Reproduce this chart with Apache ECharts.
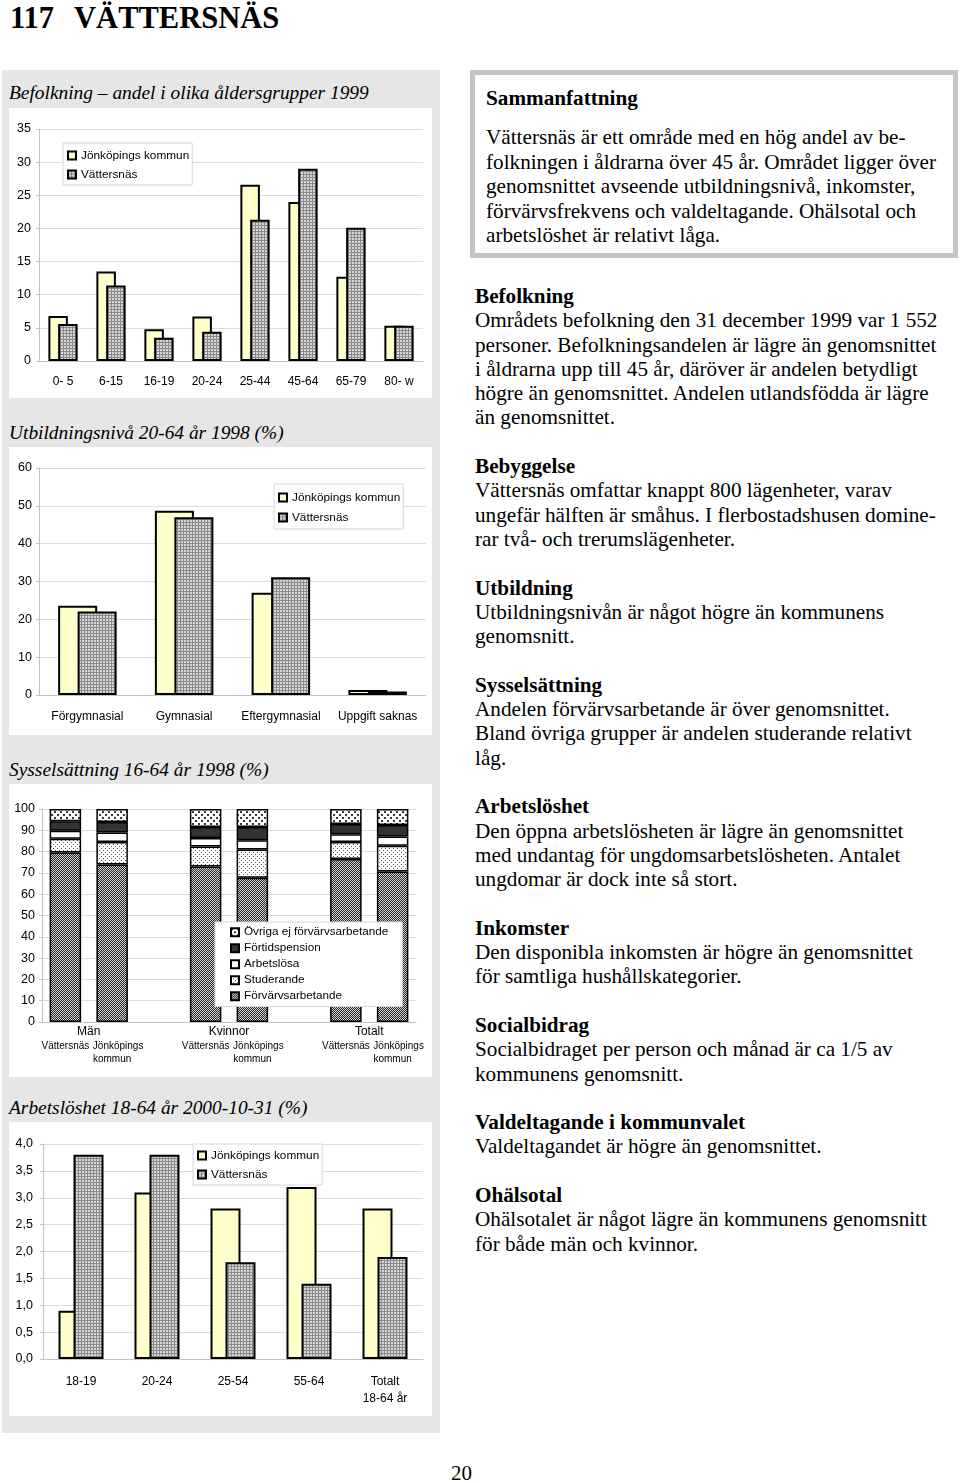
<!DOCTYPE html>
<html><head><meta charset="utf-8">
<script src="https://cdn.jsdelivr.net/npm/echarts@6/dist/echarts.min.js"></script>
<style>
body{margin:0;width:960px;height:1483px;background:#fff;position:relative;overflow:hidden;font-family:"Liberation Serif","Times New Roman",serif;color:#000}
.a{position:absolute}
#pageTitle{left:10px;top:0px;font-weight:bold;font-size:30.5px;line-height:36px;white-space:nowrap}
#panel{left:2px;top:70px;width:438px;height:1363px;background:#e6e6e6}
.ct{position:absolute;left:9px;font-style:italic;font-size:19.4px;line-height:22px;white-space:nowrap}
.box{position:absolute;left:9px;width:423px;background:#fff}
#summary{left:470px;top:70px;width:478px;height:178px;border:5px solid #c4c4c4;background:#fff}
.txt{position:absolute;white-space:nowrap;font-size:21.2px;line-height:24.3px}
.txt b{font-weight:bold}
#pnum{left:451px;top:1461px;font-size:21px;line-height:24px}
</style></head>
<body>
<div id="pageTitle" class="a">117<span style="margin-left:20px">VÄTTERSNÄS</span></div>
<div id="panel" class="a"></div>
<div class="ct" style="top:82px">Befolkning – andel i olika åldersgrupper 1999</div>
<div class="box" id="c1" style="top:108px;height:290px"></div>
<div class="ct" style="top:422px">Utbildningsnivå 20-64 år 1998 (%)</div>
<div class="box" id="c2" style="top:447px;height:288px"></div>
<div class="ct" style="top:759px">Sysselsättning 16-64 år 1998 (%)</div>
<div class="box" id="c3" style="top:784px;height:293px"></div>
<div class="ct" style="top:1097px">Arbetslöshet 18-64 år 2000-10-31 (%)</div>
<div class="box" id="c4" style="top:1122px;height:294px"></div>

<div id="summary" class="a"></div>
<div class="txt" style="left:486px;top:86px"><b>Sammanfattning</b></div>
<div class="txt" style="left:486px;top:125px;line-height:24.5px">Vättersnäs är ett område med en hög andel av be-<br>folkningen i åldrarna över 45 år. Området ligger över<br>genomsnittet avseende utbildningsnivå, inkomster,<br>förvärvsfrekvens och valdeltagande. Ohälsotal och<br>arbetslöshet är relativt låga.</div>

<div class="txt" style="left:475px;top:284px"><b>Befolkning</b><br>Områdets befolkning den 31 december 1999 var 1 552<br>personer. Befolkningsandelen är lägre än genomsnittet<br>i åldrarna upp till 45 år, däröver är andelen betydligt<br>högre än genomsnittet. Andelen utlandsfödda är lägre<br>än genomsnittet.<br><br><b>Bebyggelse</b><br>Vättersnäs omfattar knappt 800 lägenheter, varav<br>ungefär hälften är småhus. I flerbostadshusen domine-<br>rar två- och trerumslägenheter.<br><br><b>Utbildning</b><br>Utbildningsnivån är något högre än kommunens<br>genomsnitt.<br><br><b>Sysselsättning</b><br>Andelen förvärvsarbetande är över genomsnittet.<br>Bland övriga grupper är andelen studerande relativt<br>låg.<br><br><b>Arbetslöshet</b><br>Den öppna arbetslösheten är lägre än genomsnittet<br>med undantag för ungdomsarbetslösheten. Antalet<br>ungdomar är dock inte så stort.<br><br><b>Inkomster</b><br>Den disponibla inkomsten är högre än genomsnittet<br>för samtliga hushållskategorier.<br><br><b>Socialbidrag</b><br>Socialbidraget per person och månad är ca 1/5 av<br>kommunens genomsnitt.<br><br><b>Valdeltagande i kommunvalet</b><br>Valdeltagandet är högre än genomsnittet.<br><br><b>Ohälsotal</b><br>Ohälsotalet är något lägre än kommunens genomsnitt<br>för både män och kvinnor.</div>
<div id="pnum" class="a">20</div>

<script>
// ---- data ----
const ageCats = ['0- 5','6-15','16-19','20-24','25-44','45-64','65-79','80- w'];
const ageJonkoping = [6.8,13.5,4.8,6.7,26.6,24.0,12.7,5.3];
const ageVattersnas = [5.6,11.4,3.5,4.4,21.3,29.0,20.1,5.3];

const eduCats = ['Förgymnasial','Gymnasial','Eftergymnasial','Uppgift saknas'];
const eduJonkoping = [23.6,48.7,27.0,1.3];
const eduVattersnas = [22.1,47.0,31.1,0.9];

const empBars = ['Vättersnäs','Jönköpings\nkommun','','Vättersnäs','Jönköpings\nkommun','','Vättersnäs','Jönköpings\nkommun'];
const empGroups = ['','','Män','','','','','','Kvinnor','','','','','','Totalt','',''];
const empForvarv = [79.6,74.0,null,73.0,67.7,null,76.5,70.7];
const empStuderande = [6.4,10.5,null,9.4,13.3,null,8.0,12.1];
const empArbetslosa = [3.8,4.5,null,4.0,4.3,null,3.6,4.3];
const empFortids = [4.4,4.9,null,5.1,6.2,null,4.9,5.4];
const empOvriga = [5.8,6.1,null,8.5,8.5,null,7.0,7.5];
const empLegend = ['Övriga ej förvärvsarbetande','Förtidspension','Arbetslösa','Studerande','Förvärvsarbetande'];

const unCats = ['18-19','20-24','25-54','55-64','Totalt\n18-64 år'];
const unJonkoping = [0.9,3.1,2.8,3.2,2.8];
const unVattersnas = [3.8,3.8,1.8,1.4,1.9];

// ---- styles ----
function pattern(w,h,bg,fg,pts,s){
  const c=document.createElement('canvas');c.width=w;c.height=h;
  const g=c.getContext('2d');g.fillStyle=bg;g.fillRect(0,0,w,h);g.fillStyle=fg;
  pts.forEach(p=>g.fillRect(p[0],p[1],s||1,s||1));
  return {image:c,repeat:'repeat'};
}
const grayGrid = pattern(3,3,'#d6d6d6','#8a8a8a',[[0,0],[1,0],[2,0],[0,1],[0,2]]);
const checker = pattern(2,2,'#cfcfcf','#2a2a2a',[[0,0],[1,1]]);
const dotsFine = pattern(4,4,'#ffffff','#555555',[[0,0],[2,2]]);
const dotsSparse = pattern(6,6,'#ffffff','#3a3a3a',[[0,0],[3,3]],2);
const yellow = '#ffffcc';
const SANS = '"Liberation Sans", Arial, sans-serif';
const gridLine = '#dcdcdc';

function baseAxisY(min,max,interval,fmt,margin){
  return {type:'value',min:min,max:max,interval:interval,
    axisLine:{show:true,lineStyle:{color:'#c4c4c4'}},
    axisTick:{show:true,length:3,lineStyle:{color:'#c4c4c4'}},
    splitLine:{lineStyle:{color:gridLine}},
    axisLabel:{color:'#000',fontFamily:SANS,fontSize:12.5,margin:margin,formatter:fmt}};
}
function legendCfg(left,top,pad,gap){
  return {orient:'vertical',left:left,top:top,padding:pad,itemGap:gap,itemWidth:8,itemHeight:8,
    backgroundColor:'#fff',borderColor:'#d6d6d6',borderWidth:1,selectedMode:false,icon:'rect',
    textStyle:{fontFamily:SANS,fontSize:11.8,color:'#000',lineHeight:15},
    data:['Jönköpings kommun','Vättersnäs']};
}
function pairSeries(j,v,bw){
  return [
    {name:'Jönköpings kommun',type:'bar',data:j,barWidth:bw,barGap:'-50%',
      itemStyle:{color:yellow,borderColor:'#000',borderWidth:2}},
    {name:'Vättersnäs',type:'bar',data:v,barWidth:bw,barGap:'-50%',
      itemStyle:{color:grayGrid,borderColor:'#000',borderWidth:2}}
  ];
}
function catAxis(data,margin,lh){
  return {type:'category',data:data,
    axisLine:{show:true,lineStyle:{color:'#c4c4c4'}},axisTick:{show:false},
    axisLabel:{color:'#000',fontFamily:SANS,fontSize:12,margin:margin,interval:0,lineHeight:lh||15}};
}

// chart 1
echarts.init(document.getElementById('c1')).setOption({
  animation:false,
  grid:{left:30,right:9,top:21,bottom:37},
  legend:legendCfg(54,35,[5,3,3,4],4),
  xAxis:catAxis(ageCats,13),
  yAxis:baseAxisY(0,35,5,null,8),
  series:pairSeries(ageJonkoping,ageVattersnas,19.5)
});

// chart 2
echarts.init(document.getElementById('c2')).setOption({
  animation:false,
  grid:{left:30,right:6,top:21,bottom:40},
  legend:legendCfg(265,37,[6,3,4,4],5),
  xAxis:catAxis(eduCats,14),
  yAxis:baseAxisY(0,60,10,null,7),
  series:pairSeries(eduJonkoping,eduVattersnas,39)
});

// chart 3
const empSeriesDef = [
  ['Förvärvsarbetande',empForvarv,checker],
  ['Studerande',empStuderande,dotsFine],
  ['Arbetslösa',empArbetslosa,'#ffffff'],
  ['Förtidspension',empFortids,'#333333'],
  ['Övriga ej förvärvsarbetande',empOvriga,dotsSparse]
];
echarts.init(document.getElementById('c3')).setOption({
  animation:false,
  grid:{left:33,right:16,top:25,bottom:55},
  legend:{orient:'vertical',left:206,top:138,padding:[3,14,3,15],itemGap:1.5,itemWidth:8,itemHeight:8,
    backgroundColor:'#fff',borderColor:'#d6d6d6',borderWidth:1,selectedMode:false,icon:'rect',
    textStyle:{fontFamily:SANS,fontSize:11.7,color:'#000',lineHeight:14.5},data:empLegend},
  xAxis:[
    {type:'category',data:empBars,position:'bottom',
      axisLine:{show:true,lineStyle:{color:'#c4c4c4'}},axisTick:{show:false},
      axisLabel:{color:'#000',fontFamily:SANS,fontSize:10,lineHeight:13,margin:18,interval:0,
        formatter:function(v){
          if(v.indexOf('\n')<0) return v;
          const p=v.split('\n'); return '{j|'+p[0]+'}\n'+p[1];
        },
        rich:{j:{padding:[0,0,0,12],fontSize:10,fontFamily:SANS,color:'#000',lineHeight:13}}}},
    {type:'category',data:empGroups,position:'bottom',boundaryGap:false,
      axisLine:{show:false},axisTick:{show:false},splitLine:{show:false},
      axisLabel:{color:'#000',fontFamily:SANS,fontSize:12,lineHeight:15,margin:2,interval:0}}
  ],
  yAxis:baseAxisY(0,100,10,null,7),
  series:empSeriesDef.map(d=>({name:d[0],type:'bar',stack:'s',data:d[1],barWidth:31.5,xAxisIndex:0,
    itemStyle:{color:d[2],borderColor:'#000',borderWidth:1.5}}))
});

// chart 4
echarts.init(document.getElementById('c4')).setOption({
  animation:false,
  grid:{left:34,right:9,top:22,bottom:57},
  legend:legendCfg(184,22,[4,3,3,4],4),
  xAxis:catAxis(unCats,14.5,17),
  yAxis:baseAxisY(0,4,0.5,v=>v.toFixed(1).replace('.',','),10),
  series:pairSeries(unJonkoping,unVattersnas,30)
});
</script>
</body></html>
